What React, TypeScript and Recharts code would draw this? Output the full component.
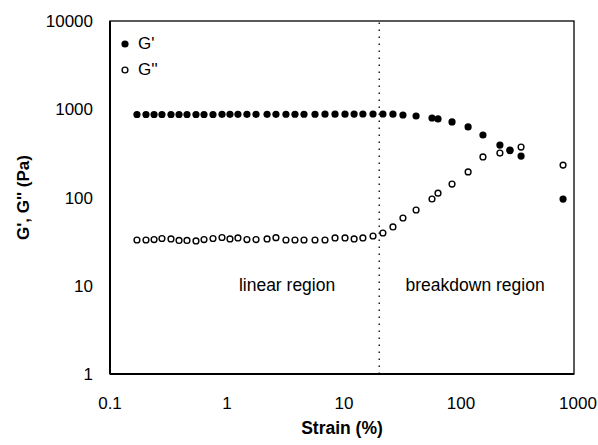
import React from 'react';
import * as Recharts from 'recharts';
import {
  ScatterChart,
  Scatter,
  XAxis,
  YAxis,
  ReferenceLine,
  ReferenceDot,
  Legend,
} from 'recharts';

// Strain (%) — shared by both series
const strain = [
  0.17, 0.203, 0.238, 0.278, 0.332, 0.389, 0.455, 0.543, 0.636, 0.759,
  0.906, 1.06, 1.24, 1.48, 1.77, 2.2, 2.62, 3.19, 3.81, 4.55,
  5.65, 6.88, 8.38, 10.2, 12.2, 14.5, 17.7, 21.5, 26.2, 31.9,
  41.3, 56.5, 63.6, 83.8, 115, 154, 215, 262, 326, 745,
];

// G' (Pa)
const gPrime = [
  872, 872, 872, 872, 872, 872, 872, 872, 872, 872,
  875, 875, 875, 875, 875, 875, 875, 878, 878, 878,
  878, 880, 880, 880, 882, 884, 884, 884, 880, 861,
  839, 796, 776, 718, 630, 511, 393, 345, 295, 96,
];

// G'' (Pa)
const gDoublePrime = [
  33.0, 33.0, 33.4, 34.3, 33.9, 32.6, 32.6, 32.2, 33.4, 34.3,
  35.2, 33.9, 34.8, 33.4, 33.4, 33.9, 35.1, 33.0, 33.0, 33.0,
  33.0, 33.0, 34.8, 34.8, 33.9, 34.8, 36.6, 39.6, 46.4, 58.6,
  72.2, 96.1, 112, 142, 195, 288, 319, 340, 373, 233,
];

const xTicks = [0.1, 1, 10, 100, 1000];
const yTicks = [1, 10, 100, 1000, 10000];
const xDomain = [0.1, 924];
const yDomain = [1, 10000];
const boundaryStrain = 20;
const seriesNames = ["G'", "G''"];
const regionLabels = ['linear region', 'breakdown region'];
const regionLabelStrain = [3.26, 132];
const regionLabelModulus = [10.2, 10.2];
const xLabel = 'Strain (%)';
const yLabel = "G', G'' (Pa)";

const FONT = "'Liberation Sans', Arial, Helvetica, sans-serif";

const gpData = strain.map((x, i) => ({ x, y: gPrime[i] }));
const gppData = strain.map((x, i) => ({ x, y: gDoublePrime[i] }));

const R: any = Recharts;
const usePlotAreaSafe: () => any = R.usePlotArea ? R.usePlotArea : () => null;

// Box around the plotting area (top and right edges of the frame)
const PlotFrame = () => {
  const area = usePlotAreaSafe();
  if (!area) return null;
  return (
    <rect
      x={area.x}
      y={area.y}
      width={area.width}
      height={area.height}
      fill="none"
      stroke="#000"
      strokeWidth={1.3}
    />
  );
};

const FilledDot = (props: any) => (
  <circle cx={props.cx} cy={props.cy} r={3.6} fill="#000" />
);
const OpenDot = (props: any) => (
  <circle cx={props.cx} cy={props.cy} r={2.9} fill="#fff" stroke="#000" strokeWidth={1.4} />
);

const LegendContent = () => (
  <div style={{ fontFamily: FONT, fontSize: 17, color: '#000', lineHeight: '26px' }}>
    {seriesNames.map((name, i) => (
      <div key={name} style={{ display: 'flex', alignItems: 'center', height: 26 }}>
        <svg width={12} height={12} style={{ marginRight: 7 }}>
          {i === 0 ? (
            <circle cx={6} cy={6} r={3.6} fill="#000" />
          ) : (
            <circle cx={6} cy={6} r={2.9} fill="#fff" stroke="#000" strokeWidth={1.4} />
          )}
        </svg>
        <span>{name}</span>
      </div>
    ))}
  </div>
);

const fmt = (v: number) => String(v);

export default function App() {
  return (
    <div style={{ position: 'absolute', left: 0, top: 0, background: '#fff' }}>
      <ScatterChart
        width={598}
        height={445}
        margin={{ top: 21, right: 24, bottom: 0, left: 0 }}
        style={{ fontFamily: FONT }}
      >
        <XAxis
          type="number"
          dataKey="x"
          scale="log"
          domain={xDomain}
          ticks={xTicks}
          interval={0}
          tickFormatter={fmt}
          allowDataOverflow
          height={71}
          tickLine={false}
          tickSize={6}
          tickMargin={17}
          axisLine={{ stroke: '#000', strokeWidth: 2 }}
          tick={{ fill: '#000', fontSize: 17, fontFamily: FONT }}
          label={{
            value: xLabel,
            position: 'center',
            dy: 18,
            style: { fontWeight: 'bold', fontSize: 17.5, fill: '#000', fontFamily: FONT },
          }}
        />
        <YAxis
          type="number"
          dataKey="y"
          scale="log"
          domain={yDomain}
          ticks={yTicks}
          interval={0}
          tickFormatter={fmt}
          allowDataOverflow
          width={110}
          tickLine={false}
          tickSize={6}
          tickMargin={11}
          axisLine={{ stroke: '#000', strokeWidth: 2 }}
          tick={{ fill: '#000', fontSize: 17, fontFamily: FONT }}
          label={{
            value: yLabel,
            angle: -90,
            position: 'center',
            dx: -32,
            style: { fontWeight: 'bold', fontSize: 17, fill: '#000', fontFamily: FONT, textAnchor: 'middle' },
          }}
        />
        <PlotFrame />
        <ReferenceLine
          x={boundaryStrain}
          stroke="#000"
          strokeWidth={1.3}
          strokeDasharray="1.5 5.5"
        />
        {regionLabels.map((t, i) => (
          <ReferenceDot
            key={t}
            x={regionLabelStrain[i]}
            y={regionLabelModulus[i]}
            r={0}
            fill="none"
            stroke="none"
            label={{
              value: t,
              position: 'center',
              style: { fontSize: 17.5, fill: '#000', fontFamily: FONT },
            }}
          />
        ))}
        <Legend
          layout="horizontal"
          verticalAlign="middle"
          align="center"
          content={<LegendContent />}
          wrapperStyle={{ position: 'absolute', left: 119, top: 31, width: 60, height: 52 }}
        />
        <Scatter
          name={seriesNames[1]}
          data={gppData}
          shape={<OpenDot />}
          isAnimationActive={false}
        />
        <Scatter
          name={seriesNames[0]}
          data={gpData}
          shape={<FilledDot />}
          isAnimationActive={false}
        />
      </ScatterChart>
    </div>
  );
}
